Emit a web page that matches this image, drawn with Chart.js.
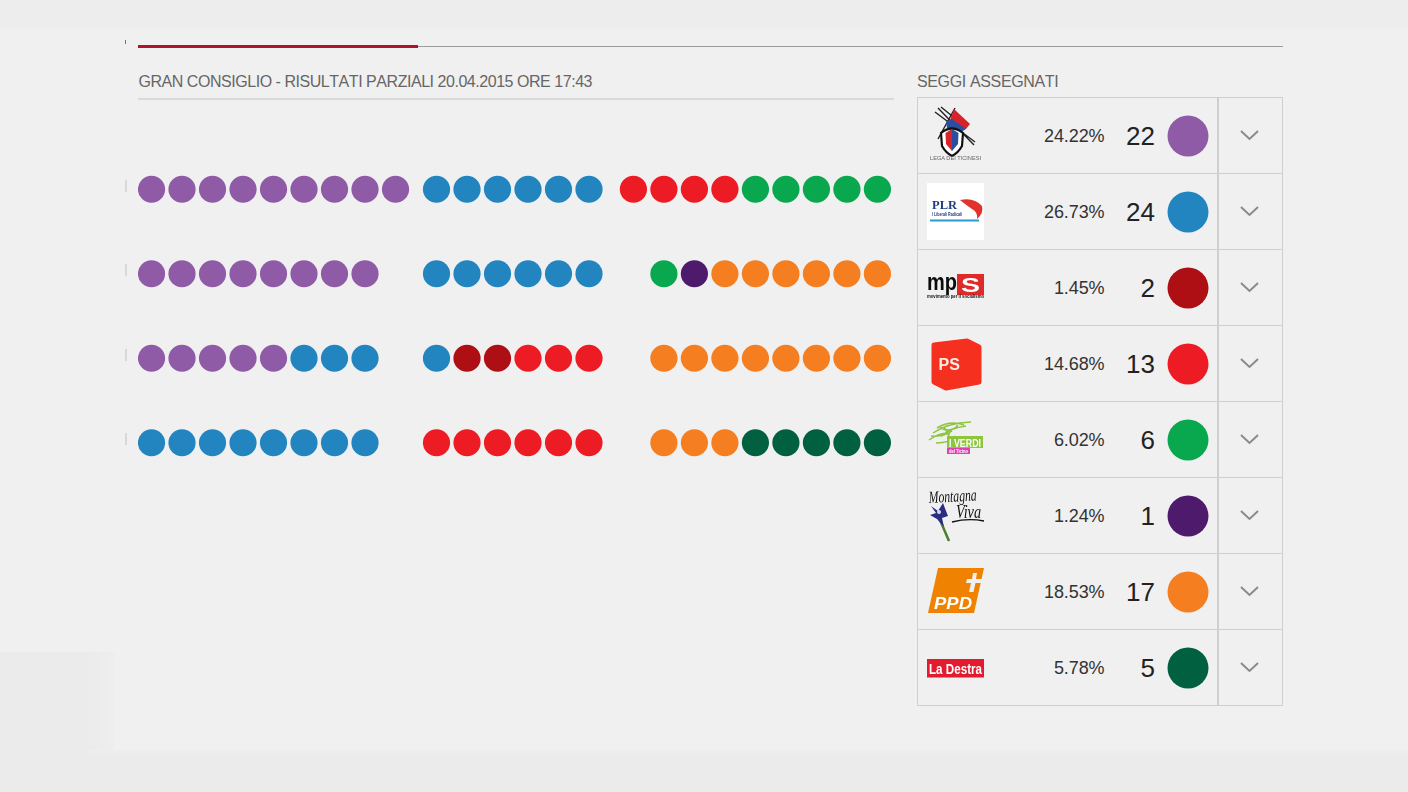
<!DOCTYPE html>
<html>
<head>
<meta charset="utf-8">
<title>Gran Consiglio</title>
<script src="https://cdn.jsdelivr.net/npm/chart.js@4"></script>
<style>
html,body{margin:0;padding:0;width:1408px;height:792px;overflow:hidden;background:#f0f0f0;font-family:"Liberation Sans",Arial,sans-serif}
.abs{position:absolute}
canvas{position:absolute;display:block}
.txt{position:absolute;white-space:nowrap}
</style>
</head>
<body>
<div class="abs" style="left:0;top:0;width:1408px;height:32px;background:linear-gradient(#ececec 0,#ededed 26px,#f0f0f0 32px)"></div>
<div class="abs" style="left:0;top:652px;width:115px;height:140px;background:linear-gradient(90deg,#ebebeb 88px,#eeeeee 115px)"></div>
<div class="abs" style="left:88px;top:750px;width:1320px;height:42px;background:linear-gradient(#eeeeee 0,#ebebeb 8px)"></div>

<div class="abs" style="left:125px;top:40px;width:1px;height:4px;background:#777"></div>
<div class="abs" style="left:125px;top:180px;width:1.5px;height:12px;background:#d8d8d8"></div>
<div class="abs" style="left:125px;top:264px;width:1.5px;height:12px;background:#d8d8d8"></div>
<div class="abs" style="left:125px;top:349px;width:1.5px;height:12px;background:#d8d8d8"></div>
<div class="abs" style="left:125px;top:433px;width:1.5px;height:12px;background:#d8d8d8"></div>

<div class="abs" style="left:418px;top:46px;width:865px;height:1px;background:#9c9c9c"></div>
<div class="abs" style="left:138px;top:45px;width:280px;height:3px;background:#b2102c"></div>
<div class="abs" style="left:138px;top:98px;width:756px;height:1.5px;background:#d9d9d9"></div>

<div class="txt" id="title" style="left:138.5px;top:72px;font-size:16px;line-height:20px;color:#666;font-kerning:none;letter-spacing:-.46px"></div>
<div class="txt" id="seatsTitle" style="left:917px;top:72px;font-size:16px;line-height:20px;color:#666;font-kerning:none;letter-spacing:-.36px"></div>

<div id="table"></div>

<canvas id="seats" width="756" height="338" style="left:138px;top:147px;width:756px;height:338px"></canvas>
<canvas id="swatches" width="56" height="608" style="left:1160px;top:97.5px;width:56px;height:608px"></canvas>

<svg class="abs" style="left:0;top:0" width="1408" height="792" viewBox="0 0 1408 792" font-family="Liberation Sans, Arial, sans-serif">
  <!-- Lega dei Ticinesi -->
  <g>
    <path d="M935 112 L975 142 M938 108 L974 145 M941 107 L957 120 M955 108 L938 139" stroke="#222" stroke-width="1.4" fill="none"/>
    <path d="M954 109 L970 124 L966 129 L958 128 L950 120 Z" fill="#d8232a"/>
    <path d="M946 122 L952 119 L966 129 L958 134 L947 128 Z" fill="#2a4fa0"/>
    <path d="M941 133 Q952 124 963 133 L962 146 Q958 153 952 156 Q946 153 942 146 Z" fill="#fff" stroke="#111" stroke-width="2.2"/>
    <path d="M952 129 L945.5 133 L946 144 L952 151 Z" fill="#d8232a"/>
    <path d="M952 129 L958.5 133 L958 144 L952 151 Z" fill="#2a4fa0"/>
    <text x="930" y="160" font-size="5.5" fill="#666" textLength="51" lengthAdjust="spacingAndGlyphs">LEGA DEI TICINESI</text>
  </g>
  <!-- PLR -->
  <g>
    <rect x="927" y="183" width="57" height="57" fill="#fff"/>
    <text x="932" y="209" font-size="12.5" font-weight="bold" font-family="Liberation Serif, serif" fill="#1e3c7d" textLength="25" lengthAdjust="spacingAndGlyphs">PLR</text>
    <path d="M960 200 Q974 197 982 206 Q984 213 977 219 Q978 212 972 209 Q966 205 960 200 Z" fill="#e2322b"/>
    <text x="932" y="216" font-size="5" font-weight="bold" fill="#1e3c7d" textLength="30" lengthAdjust="spacingAndGlyphs">I Liberali Radicali</text>
    <path d="M930 220.5 H979" stroke="#2b9ad2" stroke-width="2"/>
  </g>
  <!-- mps -->
  <g>
    <text x="927" y="290" font-size="24" font-weight="bold" fill="#0c0c0c" textLength="30" lengthAdjust="spacingAndGlyphs">mp</text>
    <rect x="957" y="274" width="27" height="21" fill="#df2a2a"/>
    <text x="961" y="292" font-size="21" font-weight="bold" fill="#fff" textLength="19" lengthAdjust="spacingAndGlyphs">S</text>
    <text x="927" y="298" font-size="4.6" font-weight="bold" fill="#111" textLength="57" lengthAdjust="spacingAndGlyphs">movimento per il socialismo</text>
  </g>
  <!-- PS -->
  <g>
    <path d="M934 345 L967 341 L979 347 L979 382 L946 388 L934 382 Z" fill="#f5301f" stroke="#f5301f" stroke-width="5" stroke-linejoin="round"/>
    <text x="938.5" y="369.5" font-size="16" font-weight="bold" fill="#fbeee8">PS</text>
  </g>
  <!-- I Verdi -->
  <g>
    <path d="M929 440 Q942 431 950 434 M933 433 Q947 423 971 422 M940 428 Q952 433 958 425 M944 427 Q950 436 950 442 M936 443 Q950 443 955 436 M937 428 Q950 420 964 425 M942 436 Q950 428 966 426 M931 436 Q944 437 952 431" stroke="#8cc63f" stroke-width="1.5" fill="none"/>
    <rect x="947" y="436" width="36" height="12" fill="#8cc63f"/>
    <text x="949" y="446.5" font-size="11" font-weight="bold" fill="#fff" textLength="32" lengthAdjust="spacingAndGlyphs">I VERDI</text>
    <rect x="947" y="448" width="23" height="6" fill="#e23fb3"/>
    <text x="949" y="453" font-size="5" font-weight="bold" fill="#fff" textLength="19" lengthAdjust="spacingAndGlyphs">del Ticino</text>
  </g>
  <!-- Montagna Viva -->
  <g>
    <text x="929" y="503" font-size="17" font-style="italic" font-family="Liberation Serif, serif" fill="#111" textLength="48" lengthAdjust="spacingAndGlyphs" transform="rotate(-3 929 503)">Montagna</text>
    <text x="956" y="518" font-size="18" font-style="italic" font-family="Liberation Serif, serif" fill="#111" textLength="25" lengthAdjust="spacingAndGlyphs">Viva</text>
    <path d="M952 522 Q968 518 984 521" stroke="#111" stroke-width="1.3" fill="none"/>
    <path d="M940 520 L949 541" stroke="#4f7d2d" stroke-width="2.5" fill="none"/>
    <path d="M931 506 L938 511 L943 503 L946 511 L948 516 L942 518 L944 527 L937 519 L930 515 L936 513 Z" fill="#2b2d83"/>
    <circle cx="939" cy="512" r="2" fill="#d8d8f0"/>
  </g>
  <!-- PPD -->
  <g>
    <path d="M938 568 L984 568 L974 613 L928 613 Z" fill="#ef8200"/>
    <path d="M973 573 L977 573 L976 579 L984 579 L983 583 L975.5 583 L973.5 592 L969 592 L971 583 L966 583 L967 579 L972 579 Z" fill="#f0f0f0"/>
    <text x="934" y="609" font-size="17" font-weight="bold" font-style="italic" fill="#fff" textLength="38" lengthAdjust="spacingAndGlyphs">PPD</text>
  </g>
  <!-- La Destra -->
  <g>
    <rect x="927" y="659" width="57" height="18.5" fill="#e31b2f"/>
    <text x="929" y="673.5" font-size="14" font-weight="bold" font-family="Liberation Sans Narrow, Liberation Sans, sans-serif" fill="#fff" textLength="53" lengthAdjust="spacingAndGlyphs">La Destra</text>
  </g>
</svg>

<script>
const titleText = "GRAN CONSIGLIO - RISULTATI PARZIALI 20.04.2015 ORE 17:43";
const seatsTitleText = "SEGGI ASSEGNATI";

const parties = ["LEGA", "PLR", "MPS", "PS", "VERDI", "MV", "PPD", "DESTRA"];
const percentages = ["24.22%", "26.73%", "1.45%", "14.68%", "6.02%", "1.24%", "18.53%", "5.78%"];
const seatCounts = [22, 24, 2, 13, 6, 1, 17, 5];
const partyColors = ["#8f5ba6", "#2285c0", "#ae0f15", "#ed1c24", "#09a84f", "#4e1a6c", "#f57e20", "#01603f"];

const rowNames = ["A", "B", "C", "D"];
// Seats per row, each row holding three blocks of seats.
const rowA = [["LEGA",9], ["PLR",6], ["PS",4,"VERDI",5]];
const rowB = [["LEGA",8], ["PLR",6], ["VERDI",1,"MV",1,"PPD",6]];
const rowC = [["LEGA",5,"PLR",3], ["PLR",1,"MPS",2,"PS",3], ["PPD",8]];
const rowD = [["PLR",8], ["PS",6], ["PPD",3,"DESTRA",5]];
const seatRows = [rowA, rowB, rowC, rowD];

// Slot where each block starts; the last block is right-aligned.
const blockStart = [0, 9.344];
const lastSlot = 23.8;

document.getElementById("title").textContent = titleText;
document.getElementById("seatsTitle").textContent = seatsTitleText;

const points = {};
parties.forEach(p => points[p] = []);
seatRows.forEach((row, r) => {
  row.forEach((block, b) => {
    const seq = [];
    for (let i = 0; i < block.length; i += 2) {
      for (let k = 0; k < block[i + 1]; k++) seq.push(block[i]);
    }
    const start = b < 2 ? blockStart[b] : lastSlot - (seq.length - 1);
    seq.forEach((p, i) => points[p].push({ x: start + i, y: rowNames[r] }));
  });
});

const baseOptions = {
  responsive: false,
  animation: false,
  devicePixelRatio: 1,
  layout: { padding: 0, autoPadding: false },
  plugins: { legend: { display: false }, tooltip: { enabled: false } }
};

new Chart(document.getElementById("seats"), {
  type: "scatter",
  data: {
    datasets: parties.map((p, i) => ({
      label: p,
      data: points[p],
      backgroundColor: partyColors[i],
      borderWidth: 0,
      pointRadius: 13.6,
      clip: false
    }))
  },
  options: {
    ...baseOptions,
    scales: {
      x: { type: "linear", display: false, min: -0.443, max: 24.344 },
      y: { type: "category", labels: rowNames, offset: true, display: false }
    }
  }
});

new Chart(document.getElementById("swatches"), {
  type: "scatter",
  data: {
    datasets: [{
      data: parties.map(p => ({ x: "seggi", y: p })),
      backgroundColor: partyColors,
      borderWidth: 0,
      pointRadius: 20.5,
      clip: false
    }]
  },
  options: {
    ...baseOptions,
    scales: {
      x: { type: "category", labels: ["seggi"], offset: true, display: false },
      y: { type: "category", labels: parties, offset: true, display: false }
    }
  }
});

// Table
const tbl = document.getElementById("table");
const rowTop = 97.5, rowH = 76, left = 917, right = 1282, divider = 1217;
const border = "#cfcfcf";
function line(x, y, w, h) {
  const d = document.createElement("div");
  d.className = "abs";
  d.style.cssText = `left:${x}px;top:${y}px;width:${w}px;height:${h}px;background:${border}`;
  tbl.appendChild(d);
}
for (let i = 0; i <= parties.length; i++) line(left, rowTop + i * rowH - 0.5, right - left + 1, 1.3);
line(left, rowTop, 1.3, rowH * parties.length);
line(right, rowTop, 1.3, rowH * parties.length);
line(divider, rowTop, 1.5, rowH * parties.length);
parties.forEach((p, i) => {
  const cy = rowTop + i * rowH + rowH / 2;
  const pct = document.createElement("div");
  pct.className = "txt";
  pct.style.cssText = `right:${1408 - 1104.5}px;top:${cy - 11}px;font-size:18px;line-height:22px;color:#333;letter-spacing:-.1px`;
  pct.textContent = percentages[i];
  tbl.appendChild(pct);
  const n = document.createElement("div");
  n.className = "txt";
  n.style.cssText = `right:${1408 - 1155}px;top:${cy - 15}px;font-size:26px;line-height:30px;color:#222`;
  n.textContent = seatCounts[i];
  tbl.appendChild(n);
  const ns = "http://www.w3.org/2000/svg";
  const s = document.createElementNS(ns, "svg");
  s.setAttribute("width", "22"); s.setAttribute("height", "14");
  s.style.cssText = `position:absolute;left:1239px;top:${cy - 7.5}px`;
  s.innerHTML = '<path d="M2 3 L10.5 11 L19 3" fill="none" stroke="#8a8a8a" stroke-width="2"/>';
  tbl.appendChild(s);
});
</script>
</body>
</html>
